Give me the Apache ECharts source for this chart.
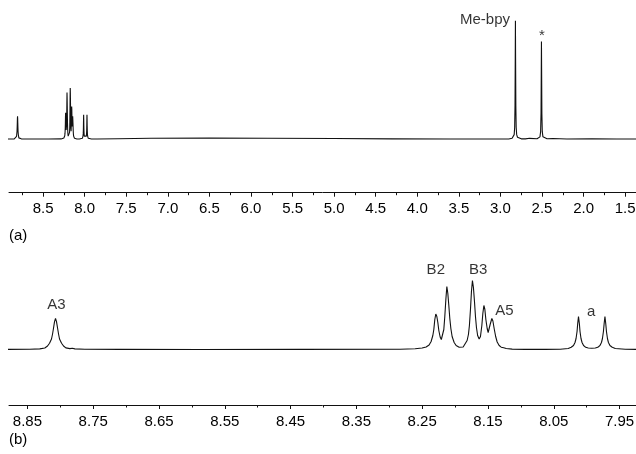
<!DOCTYPE html>
<html>
<head>
<meta charset="utf-8">
<script src="https://cdn.jsdelivr.net/npm/echarts@6/dist/echarts.min.js"></script>
<style>
html,body{margin:0;padding:0;background:#fff;}
#chart{width:636px;height:454px;}
</style>
</head>
<body>
<div id="chart"></div>
<script>
// Chemical shift (ppm) and intensity of the 1H NMR trace
const specPpm = [
  8.95, 8.892, 8.8464, 8.8312, 8.8236, 8.8194, 8.8164, 8.8134, 8.8118, 8.8103, 8.8088, 8.8073, 8.8058, 8.8042, 8.8027, 8.8012, 8.7981, 8.7951, 8.7916, 8.7855, 8.7817, 8.7779, 8.7627, 8.7095, 8.5878, 8.4357, 8.2836,
  8.2607, 8.2501, 8.2440, 8.2395, 8.2364, 8.2338, 8.2323, 8.2308, 8.2293, 8.2277, 8.2262, 8.2247, 8.2227, 8.2209, 8.2189, 8.2171, 8.2156, 8.2140, 8.2125, 8.2110, 8.2095, 8.2080, 8.2064, 8.2045, 8.2014, 8.1984, 8.1938, 8.1908, 8.1877, 8.1847, 8.1817, 8.1797, 8.1782, 8.1766, 8.1751, 8.1736, 8.1721, 8.1705, 8.1690, 8.1675, 8.1657, 8.1634, 8.1614, 8.1593, 8.1578, 8.1562, 8.1547, 8.1532, 8.1512, 8.1497, 8.1482, 8.1467, 8.1441, 8.1425, 8.1406, 8.1383, 8.1360, 8.1330, 8.1299, 8.1261, 8.1223, 8.1132, 8.0934, 8.0630,
  8.0402, 8.0280, 8.0235, 8.0200, 8.0177, 8.0161, 8.0146, 8.0136, 8.0124, 8.0111, 8.0101, 8.0086, 8.0070, 8.0047, 8.0014, 7.9976, 7.9923, 7.9869, 7.9831, 7.9798, 7.9775, 7.9760, 7.9745, 7.9734, 7.9722, 7.9710, 7.9699, 7.9684, 7.9669, 7.9646, 7.9611, 7.9565, 7.9413, 7.9185, 7.8881,
  7.85, 7.6, 7.2, 6.5, 5.8, 5.0, 4.3, 3.6, 2.90,
  2.86, 2.845, 2.835, 2.829, 2.825, 2.822, 2.820, 2.818, 2.815, 2.811, 2.805, 2.795, 2.78, 2.75, 2.70, 2.69, 2.68, 2.65, 2.63, 2.56,
  2.54, 2.525, 2.517, 2.512, 2.509, 2.507, 2.505, 2.502, 2.497, 2.489, 2.475, 2.44, 2.37, 2.35, 2.2, 1.9, 1.6, 1.3
];
const specInt = [
  0, 0, 0.3, 0.6, 1.5, 3.5, 6.2, 10.5, 15.5, 21.5, 27.9, 31, 27.9, 21.5, 15.5, 10.5, 6.2, 3.5, 1.6, 0.9, 1.2, 0.6, 0.3, 0.1, 0, 0.1, 0.2,
  0.7, 1.5, 2.5, 4.5, 8, 14, 20, 30, 35.5, 33, 27, 19, 12.5, 10, 12, 20, 33, 50, 63, 56, 44, 31, 21, 13, 7, 4, 2.3, 2, 2.5, 4.5, 9, 15, 24, 40, 58, 69, 62, 48, 33, 22, 14, 10.5, 13, 24, 36, 44, 40, 30, 21, 17, 19, 25, 31, 28.5, 21, 13, 7.5, 4, 2.3, 1.8, 1, 0.4, 0.1, 0.1,
  0.3, 1, 2.2, 4, 7, 11, 18, 26, 33, 26, 18, 11, 7, 4, 2.2, 1.5, 1.3, 1.5, 2.2, 4, 7, 11, 18, 26, 33, 26, 18, 11, 7, 4, 2.2, 1, 0.3, 0.1, 0,
  0, 0.5, 1.2, 1.4, 1.2, 0.7, 0.3, 0, 0,
  1, 2.5, 6, 16, 45, 110, 160, 110, 45, 16, 6, 2.5, 1, 0.3, 0.2, 1.2, 0.3, 1.0, 0.3, 0.5,
  1, 3, 10, 35, 95, 132, 95, 35, 10, 3, 1, 0.4, 0.8, 0.2, 0.1, 0.3, 0, 0
];

// Axis ticks
const topMajorTicks = [8.5, 8.0, 7.5, 7.0, 6.5, 6.0, 5.5, 5.0, 4.5, 4.0, 3.5, 3.0, 2.5, 2.0, 1.5];
const topMinorTicks = [8.75, 8.25, 7.75, 7.25, 6.75, 6.25, 5.75, 5.25, 4.75, 4.25, 3.75, 3.25, 2.75, 2.25, 1.75];
const bottomMajorTicks = [8.85, 8.75, 8.65, 8.55, 8.45, 8.35, 8.25, 8.15, 8.05, 7.95];
const bottomMinorTicks = [8.8, 8.7, 8.6, 8.5, 8.4, 8.3, 8.2, 8.1, 8.0];

// Peak annotations
const topLabelText = ['Me-bpy', '*'];
const topLabelPpm = [3.186, 2.501];
const topLabelInt = [161.2, 139.6];
const bottomLabelText = ['A3', 'B2', 'B3', 'A5', 'a'];
const bottomLabelPpm = [8.8058, 8.2293, 8.1649, 8.1249, 7.9930];
const bottomLabelInt = [44.5, 79.5, 79.5, 38.8, 37.8];

const panelLetters = ['(a)', '(b)'];

const FONT = "'Liberation Sans', Arial, sans-serif";
const INK = '#111';
const TEXT = '#000';

const fullData = specPpm.map((p, i) => [p, specInt[i]]);
const zoomData = fullData.filter(d => d[0] >= 7.85);

function majorAxis(grid, min, max, ticks, digits) {
  return {
    type: 'value', gridIndex: grid, inverse: true, min: min, max: max, position: 'bottom',
    axisLine: { show: true, onZero: false, lineStyle: { color: INK, width: 1 } },
    axisTick: { show: true, customValues: ticks, length: 4, inside: false, lineStyle: { color: INK, width: 1 } },
    axisLabel: { show: true, customValues: ticks, margin: 9, fontSize: 15, fontFamily: FONT, color: TEXT,
      formatter: v => Number(v).toFixed(digits) },
    splitLine: { show: false }
  };
}
function minorAxis(grid, min, max, ticks) {
  return {
    type: 'value', gridIndex: grid, inverse: true, min: min, max: max, position: 'bottom', offset: 0,
    axisLine: { show: false, onZero: false },
    axisTick: { show: true, customValues: ticks, length: 2.5, inside: false, lineStyle: { color: INK, width: 1 } },
    axisLabel: { show: false },
    splitLine: { show: false }
  };
}

const chart = echarts.init(document.getElementById('chart'), null, { renderer: 'canvas' });
chart.setOption({
  animation: false,
  backgroundColor: '#fff',
  grid: [
    { left: 9, right: 0, top: 10, bottom: 261.3, containLabel: false, outerBoundsMode: 'none' },
    { left: 9, right: 0, top: 265, bottom: 49, containLabel: false, outerBoundsMode: 'none' }
  ],
  xAxis: [
    majorAxis(0, 1.37, 8.91, topMajorTicks, 1),
    minorAxis(0, 1.37, 8.91, topMinorTicks),
    majorAxis(1, 7.925, 8.878, bottomMajorTicks, 2),
    minorAxis(1, 7.925, 8.878, bottomMinorTicks)
  ],
  yAxis: [
    { type: 'value', gridIndex: 0, min: -72.6, max: 174.7, show: false, splitLine: { show: false } },
    { type: 'value', gridIndex: 1, min: -55.5, max: 84.5, show: false, splitLine: { show: false } }
  ],
  series: [
    { type: 'line', xAxisIndex: 0, yAxisIndex: 0, data: fullData, symbol: 'none', smooth: false,
      lineStyle: { color: INK, width: 1.1 }, clip: true },
    { type: 'line', xAxisIndex: 2, yAxisIndex: 1, data: zoomData, symbol: 'none', smooth: false,
      lineStyle: { color: INK, width: 1.1 }, clip: true },
    { type: 'scatter', xAxisIndex: 0, yAxisIndex: 0, symbolSize: 1, itemStyle: { color: 'rgba(0,0,0,0)' },
      data: topLabelText.map((t, i) => ({ value: [topLabelPpm[i], topLabelInt[i]], name: t })),
      label: { show: true, position: 'inside', formatter: p => p.name, fontSize: 15, fontFamily: FONT, color: TEXT } },
    { type: 'scatter', xAxisIndex: 2, yAxisIndex: 1, symbolSize: 1, itemStyle: { color: 'rgba(0,0,0,0)' },
      data: bottomLabelText.map((t, i) => ({ value: [bottomLabelPpm[i], bottomLabelInt[i]], name: t })),
      label: { show: true, position: 'inside', formatter: p => p.name, fontSize: 15, fontFamily: FONT, color: TEXT } }
  ],
  graphic: [
    { type: 'text', left: 9, top: 228, style: { text: panelLetters[0], fontSize: 15, fontFamily: FONT, fill: TEXT } },
    { type: 'text', left: 9, top: 432, style: { text: panelLetters[1], fontSize: 15, fontFamily: FONT, fill: TEXT } }
  ]
});
</script>
</body>
</html>
